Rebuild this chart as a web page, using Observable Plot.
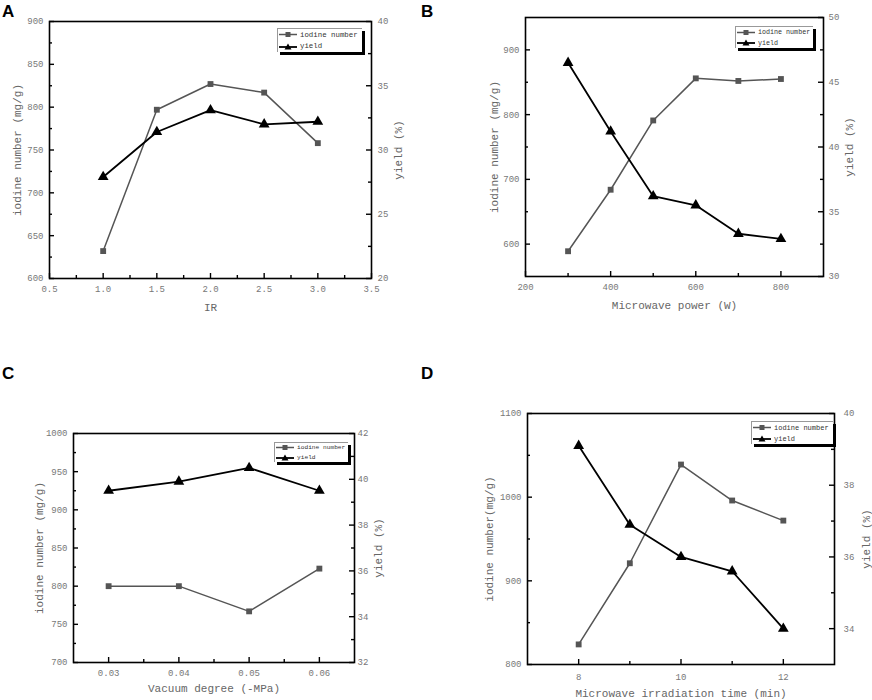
<!DOCTYPE html>
<html><head><meta charset="utf-8">
<script src="https://cdn.jsdelivr.net/npm/d3@7"></script>
<script src="https://cdn.jsdelivr.net/npm/@observablehq/plot@0.6"></script>
<style>
body{margin:0;background:#fff;width:872px;height:700px;position:relative;overflow:hidden;font-family:"Liberation Mono",monospace}
.panel{position:absolute}
.letter{position:absolute;font:bold 17px "Liberation Sans",Arial,sans-serif;color:#000;line-height:1}
.legend{position:absolute;background:#fff;border-top:1px solid #999;border-left:1px solid #999;box-shadow:3px 3px 0 #000;font-family:"Liberation Mono",monospace;color:#333;box-sizing:border-box;white-space:nowrap;overflow:visible}
.legend .row{display:flex;align-items:center;height:50%}
.legend svg{flex:none;margin:0 3px 0 1px}
</style></head><body>
<script>
// ---- data ----
const irValues = [1.0, 1.5, 2.0, 2.5, 3.0];
const irIodine = [632, 797, 827, 817, 758];
const irYield = [27.9, 31.4, 33.1, 32.0, 32.2];

const powerValues = [300, 400, 500, 600, 700, 800];
const powerIodine = [589, 684, 791, 856, 852, 855];
const powerYield = [46.5, 41.2, 36.2, 35.5, 33.3, 32.9];

const vacuumValues = [0.03, 0.04, 0.05, 0.06];
const vacuumIodine = [800, 800, 767, 823];
const vacuumYield = [39.5, 39.9, 40.5, 39.5];

const timeValues = [8, 9, 10, 11, 12];
const timeIodine = [824, 921, 1039, 996, 972];
const timeYield = [39.1, 36.9, 36.0, 35.6, 34.0];

const seriesNames = ["iodine number", "yield"];

// tick labels
const irXLabels = [0.5, 1.0, 1.5, 2.0, 2.5, 3.0, 3.5];
const irXMinor = [0.75, 1.25, 1.75, 2.25, 2.75, 3.25];
const irYLabels = [600, 650, 700, 750, 800, 850, 900];
const irYMinor = [625, 675, 725, 775, 825, 875];
const irY2Labels = [20, 25, 30, 35, 40];
const irY2Minor = [22.5, 27.5, 32.5, 37.5];

const powerXLabels = [200, 400, 600, 800];
const powerXMinor = [300, 500, 700];
const powerYLabels = [600, 700, 800, 900];
const powerYMinor = [650, 750, 850];
const powerY2Labels = [30, 35, 40, 45, 50];
const powerY2Minor = [32.5, 37.5, 42.5, 47.5];

const vacuumXLabels = [0.03, 0.04, 0.05, 0.06];
const vacuumXMinor = [0.035, 0.045, 0.055];
const vacuumYLabels = [700, 750, 800, 850, 900, 950, 1000];
const vacuumYMinor = [725, 775, 825, 875, 925, 975];
const vacuumY2Labels = [32, 34, 36, 38, 40, 42];
const vacuumY2Minor = [33, 35, 37, 39, 41];

const timeXLabels = [8, 10, 12];
const timeXMinor = [9, 11];
const timeYLabels = [800, 900, 1000, 1100];
const timeYMinor = [850, 950, 1050];
const timeY2Labels = [34, 36, 38, 40];
const timeY2Minor = [35, 37, 39];

function panel(cfg) {
  const [y0, y1] = cfg.yDomain, [c0, c1] = cfg.y2Domain;
  const k = (y1 - y0) / (c1 - c0);
  const m = v => y0 + (v - c0) * k;
  const inv = v => c0 + (v - y0) / k;
  const W = 436, H = 350;
  const fw = W - cfg.ml - cfg.mr, fh = H - cfg.mt - cfg.mb;
  const iod = cfg.x.map((x, i) => ({x, v: cfg.iodine[i]}));
  const yl = cfg.x.map((x, i) => ({x, v: m(cfg.yield[i])}));
  const tk = {stroke: "#000", strokeWidth: 1.4};
  const title = {fontSize: 11, fill: "#666", textAnchor: "middle", lineAnchor: "middle"};
  const chart = Plot.plot({
    width: W, height: H,
    marginLeft: cfg.ml, marginRight: cfg.mr, marginTop: cfg.mt, marginBottom: cfg.mb,
    style: {fontFamily: "'Liberation Mono', monospace", fontSize: "9px", color: "#777", background: "transparent"},
    x: {type: "linear", domain: cfg.xDomain, label: null},
    y: {type: "linear", domain: cfg.yDomain, label: null},
    marks: [
      Plot.tickY(cfg.yLabels, {y: d => d, insetRight: fw - 5, ...tk}),
      Plot.tickY(cfg.yMinor, {y: d => d, insetRight: fw - 3, ...tk}),
      Plot.tickY(cfg.y2Labels.map(m), {y: d => d, insetLeft: fw - 5, ...tk}),
      Plot.tickY(cfg.y2Minor.map(m), {y: d => d, insetLeft: fw - 3, ...tk}),
      Plot.tickX(cfg.xLabels, {x: d => d, insetTop: fh - 5, ...tk}),
      Plot.tickX(cfg.xMinor, {x: d => d, insetTop: fh - 3, ...tk}),
      Plot.frame({stroke: "#000", strokeWidth: 1.6}),
      Plot.axisX(cfg.xLabels, {tickSize: 0, tickPadding: cfg.xPad, tickFormat: cfg.xFmt, label: null, fill: "#777"}),
      Plot.axisY(cfg.yLabels, {anchor: "left", tickSize: 0, tickPadding: 6, tickFormat: d3.format("d"), label: null, fill: "#777"}),
      Plot.axisY(cfg.y2Labels.map(m), {anchor: "right", tickSize: 0, tickPadding: cfg.y2Pad, tickFormat: v => d3.format("~g")(Math.round(inv(v) * 1000) / 1000), label: null, fill: "#777"}),
      Plot.text([cfg.xTitle], {frameAnchor: "bottom", dy: cfg.xTitleDy, ...title}),
      Plot.text([cfg.yTitle], {frameAnchor: "left", dx: cfg.yTitleDx, rotate: -90, ...title}),
      Plot.text([cfg.y2Title], {frameAnchor: "right", dx: cfg.y2TitleDx, rotate: -90, ...title}),
      Plot.line(iod, {x: "x", y: "v", stroke: "#555", strokeWidth: 1.5}),
      Plot.dot(iod, {x: "x", y: "v", symbol: "square", r: 3.3, fill: "#555", stroke: "none"}),
      Plot.line(yl, {x: "x", y: "v", stroke: "#000", strokeWidth: 1.8}),
      Plot.dot(yl, {x: "x", y: "v", symbol: "triangle", r: 4, fill: "#000", stroke: "none"})
    ]
  });
  chart.classList.add("panel");
  chart.style.left = cfg.left + "px";
  chart.style.top = cfg.top + "px";
  document.body.appendChild(chart);

  // legend
  const lg = document.createElement("div");
  lg.className = "legend";
  const [lx, ly, lw, lh, fs] = cfg.legend;
  Object.assign(lg.style, {left: lx + "px", top: ly + "px", width: lw + "px", height: lh + "px", fontSize: fs + "px"});
  const sym = [
    '<svg width="18" height="7"><line x1="0" y1="3.5" x2="18" y2="3.5" stroke="#555" stroke-width="1.5"/><rect x="6.5" y="1" width="5" height="5" fill="#555"/></svg>',
    '<svg width="18" height="7"><line x1="0" y1="4" x2="18" y2="4" stroke="#000" stroke-width="1.8"/><path d="M9,0.5 L12.5,6.5 L5.5,6.5Z" fill="#000"/></svg>'
  ];
  lg.innerHTML = seriesNames.map((n, i) => `<div class="row">${sym[i]}<span>${n}</span></div>`).join("");
  document.body.appendChild(lg);

  const L = document.createElement("div");
  L.className = "letter";
  L.textContent = cfg.letter;
  Object.assign(L.style, {left: cfg.letterPos[0] + "px", top: cfg.letterPos[1] + "px"});
  document.body.appendChild(L);
}

panel({
  letter: "A", letterPos: [2, 3], left: 0, top: 0,
  ml: 49, mr: 65, mt: 21, mb: 72,
  xDomain: [0.5, 3.5], yDomain: [600, 900], y2Domain: [20, 40],
  x: irValues, iodine: irIodine, yield: irYield,
  xLabels: irXLabels, xMinor: irXMinor, yLabels: irYLabels, yMinor: irYMinor, y2Labels: irY2Labels, y2Minor: irY2Minor,
  xFmt: d3.format(".1f"), xPad: 7, y2Pad: 6,
  xTitle: "IR", yTitle: "iodine number (mg/g)", y2Title: "yield (%)",
  xTitleDy: 29, yTitleDx: -32, y2TitleDx: 27,
  legend: [277, 28, 85, 24, 7.4]
});
panel({
  letter: "B", letterPos: [421, 3], left: 436, top: 0,
  ml: 89, mr: 49, mt: 17, mb: 74,
  xDomain: [200, 900], yDomain: [550, 950], y2Domain: [30, 50],
  x: powerValues, iodine: powerIodine, yield: powerYield,
  xLabels: powerXLabels, xMinor: powerXMinor, yLabels: powerYLabels, yMinor: powerYMinor, y2Labels: powerY2Labels, y2Minor: powerY2Minor,
  xFmt: d3.format("d"), xPad: 7, y2Pad: 5,
  xTitle: "Microwave power (W)", yTitle: "iodine number (mg/g)", y2Title: "yield (%)",
  xTitleDy: 29, yTitleDx: -31, y2TitleDx: 26,
  legend: [735, 26, 78, 22, 6.7]
});
panel({
  letter: "C", letterPos: [2, 365], left: 0, top: 350,
  ml: 73, mr: 82, mt: 83, mb: 38,
  xDomain: [0.025, 0.065], yDomain: [700, 1000], y2Domain: [32, 42],
  x: vacuumValues, iodine: vacuumIodine, yield: vacuumYield,
  xLabels: vacuumXLabels, xMinor: vacuumXMinor, yLabels: vacuumYLabels, yMinor: vacuumYMinor, y2Labels: vacuumY2Labels, y2Minor: vacuumY2Minor,
  xFmt: d3.format(".2f"), xPad: 7, y2Pad: 3,
  xTitle: "Vacuum degree (-MPa)", yTitle: "iodine number (mg/g)", y2Title: "yield (%)",
  xTitleDy: 26, yTitleDx: -34, y2TitleDx: 24,
  legend: [274, 442, 74, 20, 6.2]
});
panel({
  letter: "D", letterPos: [421, 365], left: 436, top: 350,
  ml: 91, mr: 38, mt: 63, mb: 36,
  xDomain: [7, 13], yDomain: [800, 1100], y2Domain: [33, 40],
  x: timeValues, iodine: timeIodine, yield: timeYield,
  xLabels: timeXLabels, xMinor: timeXMinor, yLabels: timeYLabels, yMinor: timeYMinor, y2Labels: timeY2Labels, y2Minor: timeY2Minor,
  xFmt: d3.format("d"), xPad: 9, y2Pad: 9,
  xTitle: "Microwave irradiation time (min)", yTitle: "iodine number(mg/g)", y2Title: "yield (%)",
  xTitleDy: 29, yTitleDx: -38, y2TitleDx: 32,
  legend: [751, 421, 82, 23, 7]
});
</script>
</body></html>
